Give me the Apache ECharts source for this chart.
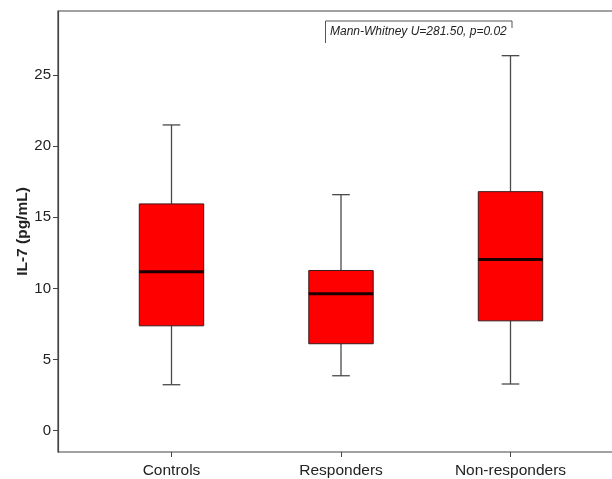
<!DOCTYPE html>
<html>
<head>
<meta charset="utf-8">
<script src="https://cdn.jsdelivr.net/npm/echarts@6/dist/echarts.min.js"></script>
<style>
  html, body { margin: 0; padding: 0; background: #fff; }
  #chart { width: 612px; height: 479px; }
</style>
</head>
<body>
<div id="chart"></div>
<script>
const categories = ['Controls', 'Responders', 'Non-responders']
// [low whisker, Q1, median, Q3, high whisker]
const lowWhisker = [3.23, 3.86, 3.28]
const q1 = [7.37, 6.11, 7.72]
const median = [11.17, 9.62, 12.03]
const q3 = [15.94, 11.26, 16.8]
const highWhisker = [21.49, 16.59, 26.36]
const yTicks = [0, 5, 10, 15, 20, 25]
const statText = 'Mann-Whitney U=281.50, p=0.02'

const font = '"Liberation Sans", Arial, Helvetica, sans-serif'
const axisColor = '#444'

const boxData = categories.map((c, i) => [i, lowWhisker[i], q1[i], median[i], q3[i], highWhisker[i]])

function renderBox(params, api) {
  const i = api.value(0)
  const band = api.size([1, 0])[0]
  const half = band * 0.19
  const capHalf = band * 0.052
  const pLow = api.coord([i, api.value(1)])
  const pQ1 = api.coord([i, api.value(2)])
  const pMed = api.coord([i, api.value(3)])
  const pQ3 = api.coord([i, api.value(4)])
  const pHigh = api.coord([i, api.value(5)])
  const x = pMed[0]
  const lineStyle = { stroke: '#4a4a4a', lineWidth: 1.3 }
  return {
    type: 'group',
    children: [
      { type: 'line', shape: { x1: x, y1: pQ3[1], x2: x, y2: pHigh[1] }, style: lineStyle },
      { type: 'line', shape: { x1: x, y1: pQ1[1], x2: x, y2: pLow[1] }, style: lineStyle },
      { type: 'line', shape: { x1: x - capHalf, y1: pHigh[1], x2: x + capHalf, y2: pHigh[1] }, style: lineStyle },
      { type: 'line', shape: { x1: x - capHalf, y1: pLow[1], x2: x + capHalf, y2: pLow[1] }, style: lineStyle },
      {
        type: 'rect',
        shape: { x: x - half, y: pQ3[1], width: half * 2, height: pQ1[1] - pQ3[1] },
        style: { fill: '#ff0000', stroke: '#3a1a1a', lineWidth: 1 }
      },
      { type: 'line', shape: { x1: x - half, y1: pMed[1], x2: x + half, y2: pMed[1] }, style: { stroke: '#1a0000', lineWidth: 3 } }
    ]
  }
}

const chart = echarts.init(document.getElementById('chart'))
chart.setOption({
  animation: false,
  backgroundColor: '#fff',
  grid: [
    { left: 86.75, right: 16.75, top: 11, bottom: 27, outerBoundsMode: 'none', containLabel: false },
    {
      left: 58, width: 580, top: 11, bottom: 27, outerBoundsMode: 'none', containLabel: false,
      show: true, borderColor: axisColor, borderWidth: 1.2, backgroundColor: 'transparent'
    }
  ],
  xAxis: [
    {
      type: 'category',
      gridIndex: 0,
      data: categories,
      axisLine: { show: false, onZero: false },
      axisTick: { show: true, alignWithLabel: true, length: 5, lineStyle: { color: axisColor } },
      axisLabel: { fontFamily: font, fontSize: 15.5, color: '#222', margin: 11 },
      splitLine: { show: false }
    },
    { type: 'value', gridIndex: 1, show: false, splitLine: { show: false } }
  ],
  yAxis: [
    {
      type: 'value',
      gridIndex: 0,
      min: -1.5,
      max: 29.5,
      offset: 28.75,
      name: 'IL-7 (pg/mL)',
      nameLocation: 'middle',
      nameGap: 27,
      nameMoveOverlap: false,
      nameTextStyle: { fontFamily: font, fontSize: 15.5, fontWeight: 'bold', color: '#222' },
      axisLine: { show: true, lineStyle: { color: axisColor, width: 1.2 } },
      axisTick: { show: true, length: 5, customValues: yTicks, lineStyle: { color: axisColor } },
      axisLabel: { fontFamily: font, fontSize: 15, color: '#222', margin: 7, customValues: yTicks },
      splitLine: { show: false }
    },
    { type: 'value', gridIndex: 1, show: false, splitLine: { show: false } }
  ],
  graphic: [
    {
      type: 'polyline',
      shape: { points: [[325.5, 43], [325.5, 21], [512, 21], [512, 28]] },
      style: { stroke: '#555', lineWidth: 1, fill: null }
    },
    {
      type: 'text',
      left: 330,
      top: 26,
      style: { text: statText, fontFamily: font, fontSize: 12, fontStyle: 'italic', fill: '#222' }
    }
  ],
  series: [
    {
      type: 'custom',
      xAxisIndex: 0,
      yAxisIndex: 0,
      renderItem: renderBox,
      encode: { x: 0, y: [1, 2, 3, 4, 5] },
      data: boxData
    }
  ]
})
</script>
</body>
</html>
